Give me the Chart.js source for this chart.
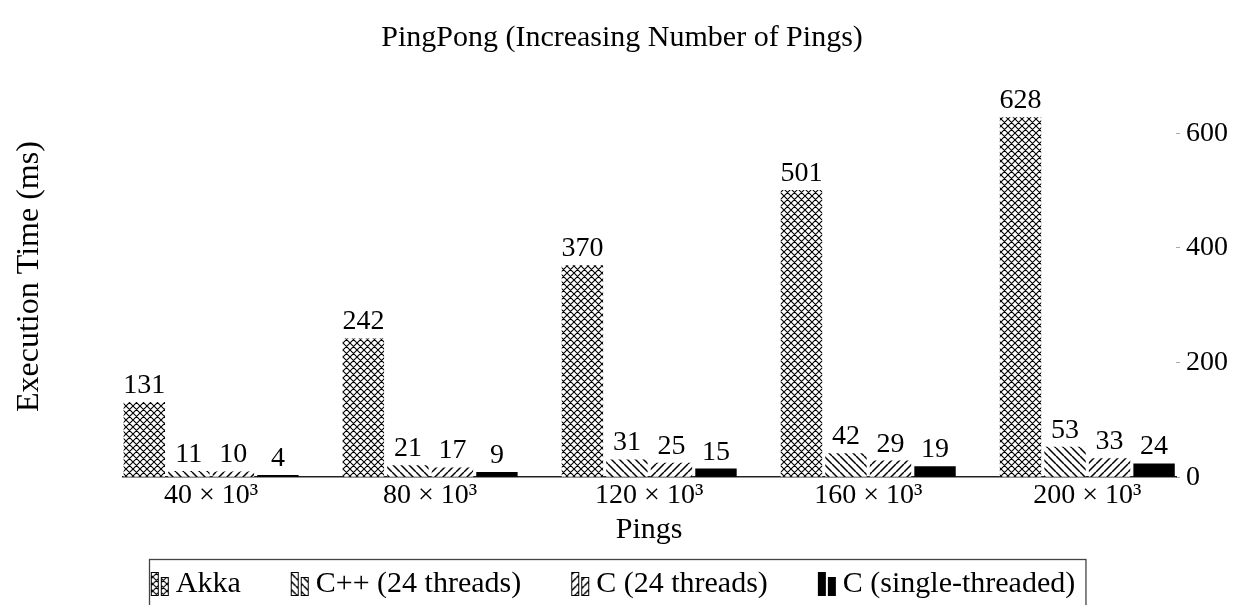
<!DOCTYPE html>
<html>
<head>
<meta charset="utf-8">
<title>PingPong</title>
<script src="https://cdn.jsdelivr.net/npm/chart.js@4.4.1/dist/chart.umd.min.js"></script>
<style>
  html, body { margin: 0; padding: 0; background: #fff; overflow: hidden; }
  #wrap { width: 1241px; height: 605px; overflow: hidden; }
</style>
</head>
<body>
<div id="wrap"><canvas id="pingChart" width="1241" height="609"></canvas></div>
<script>
// data
const pings = [40, 80, 120, 160, 200];
const pingLabels = ['40 × 10³', '80 × 10³', '120 × 10³', '160 × 10³', '200 × 10³'];
const seriesNames = ['Akka', 'C++ (24 threads)', 'C (24 threads)', 'C (single-threaded)'];
const akka = [131, 242, 370, 501, 628];
const cppThreads = [11, 21, 31, 42, 53];
const cThreads = [10, 17, 25, 29, 33];
const cSingle = [4, 9, 15, 19, 24];
const yTicks = [0, 200, 400, 600];

const FONT = "'Liberation Serif', 'DejaVu Serif', serif";

// hatch patterns like pgfplots
function makePattern(kind) {
  const s = kind === 'cross' ? 7 : 8;
  const c = document.createElement('canvas');
  c.width = s; c.height = s;
  const g = c.getContext('2d');
  g.fillStyle = '#fff';
  g.fillRect(0, 0, s, s);
  g.strokeStyle = '#000';
  g.lineWidth = kind === 'cross' ? 1.1 : 1.5;
  g.beginPath();
  for (let k = -1; k <= 1; k++) {
    if (kind === 'back' || kind === 'cross') {
      g.moveTo(k * s, 0); g.lineTo(k * s + s, s);
    }
    if (kind === 'fwd' || kind === 'cross') {
      g.moveTo(k * s, s); g.lineTo(k * s + s, 0);
    }
  }
  g.stroke();
  return g.createPattern(c, 'repeat');
}

const fills = [makePattern('cross'), makePattern('back'), makePattern('fwd'), '#000'];

// legend icon: two little bars; canvas is wider than the legend box so the
// bars sit close to the label text
const ICON_BOX = 20;
function makeIcon(fill) {
  const c = document.createElement('canvas');
  c.width = 38; c.height = 28;
  const g = c.getContext('2d');
  g.fillStyle = fill;
  g.strokeStyle = '#000';
  g.lineWidth = 1;
  g.fillRect(19, 2, 8, 24);
  g.strokeRect(19.5, 2.5, 7, 23);
  g.fillRect(29, 7, 8, 19);
  g.strokeRect(29.5, 7.5, 7, 18);
  return c;
}
const icons = fills.map(makeIcon);

const seriesData = [akka, cppThreads, cThreads, cSingle];

const valueLabels = {
  id: 'valueLabels',
  afterDatasetsDraw(chart) {
    const ctx = chart.ctx;
    ctx.save();
    ctx.font = '28px ' + FONT;
    ctx.fillStyle = '#000';
    ctx.textAlign = 'center';
    ctx.textBaseline = 'alphabetic';
    chart.data.datasets.forEach((ds, i) => {
      chart.getDatasetMeta(i).data.forEach((bar, j) => {
        ctx.fillText(String(seriesData[i][j]), bar.x, bar.y - 9);
      });
    });
    ctx.restore();
  }
};

// nudge the legend a little left, like the original
const legendShift = {
  id: 'legendShift',
  afterLayout(chart) {
    chart.legend.left -= 14;
    chart.legend.right -= 14;
  }
};

const legendBox = {
  id: 'legendBox',
  afterDraw(chart) {
    const boxes = chart.legend.legendHitBoxes;
    if (!boxes || !boxes.length) return;
    let l = Infinity, r = -Infinity, t = Infinity;
    boxes.forEach(b => {
      l = Math.min(l, b.left);
      r = Math.max(r, b.left + b.width);
      t = Math.min(t, b.top);
    });
    const ctx = chart.ctx;
    ctx.save();
    ctx.strokeStyle = '#444';
    ctx.lineWidth = 1.3;
    ctx.strokeRect(Math.round(l + 8) + 0.5, Math.round(t - 10) + 0.5, r - l + 2, 80);
    ctx.restore();
  }
};

new Chart(document.getElementById('pingChart'), {
  type: 'bar',
  data: {
    datasets: seriesNames.map((name, i) => ({
      label: name,
      data: seriesData[i].map((v, j) => ({ x: pings[j], y: v })),
      backgroundColor: fills[i],
      borderWidth: 0,
      yAxisID: 'y'
    }))
  },
  options: {
    responsive: false,
    animation: false,
    devicePixelRatio: 1,
    categoryPercentage: 0.813,
    barPercentage: 0.93,
    layout: { padding: { left: 10, right: 7, top: 0, bottom: 0 } },
    scales: {
      x: {
        type: 'linear',
        offset: false,
        bounds: 'data',
        min: 23.8,
        max: 216.2,
        afterBuildTicks: scale => { scale.ticks = pings.map(v => ({ value: v })); },
        ticks: {
          color: '#000',
          font: { family: FONT, size: 28, lineHeight: 0.85 },
          padding: 7,
          maxRotation: 0,
          callback: (v, i) => pingLabels[i]
        },
        grid: { display: true, drawOnChartArea: false, drawTicks: false, offset: false },
        border: { display: true, color: '#222', width: 1.5 },
        title: {
          display: true,
          text: 'Pings',
          color: '#000',
          font: { family: FONT, size: 30, lineHeight: 1 },
          padding: { top: 0, bottom: -16 }
        }
      },
      y: {
        position: 'right',
        min: 0,
        max: 700,
        afterBuildTicks: scale => { scale.ticks = yTicks.map(v => ({ value: v })); },
        ticks: {
          color: '#000',
          font: { family: FONT, size: 28 },
          padding: 6
        },
        grid: { display: true, drawOnChartArea: false, drawTicks: true, tickLength: 4, color: '#aaa' },
        border: { display: false }
      },
      yTitle: {
        type: 'linear',
        position: 'left',
        ticks: { display: false },
        grid: { display: false, drawTicks: false },
        border: { display: false },
        title: {
          display: true,
          text: 'Execution Time (ms)',
          color: '#000',
          font: { family: FONT, size: 32 },
          padding: { top: 0, bottom: 74 }
        }
      }
    },
    plugins: {
      title: {
        display: true,
        text: 'PingPong (Increasing Number of Pings)',
        color: '#000',
        font: { family: FONT, size: 30, weight: 'normal' },
        padding: { top: 20, bottom: 20 }
      },
      legend: {
        position: 'bottom',
        labels: {
          color: '#000',
          font: { family: FONT, size: 30 },
          usePointStyle: true,
          pointStyleWidth: ICON_BOX,
          boxHeight: 28,
          padding: 40,
          generateLabels: chart => chart.data.datasets.map((ds, i) => ({
            text: ds.label,
            pointStyle: icons[i],
            fillStyle: '#000',
            strokeStyle: '#000',
            lineWidth: 0,
            hidden: false,
            datasetIndex: i,
            fontColor: '#000'
          }))
        }
      },
      tooltip: { enabled: false }
    }
  },
  plugins: [valueLabels, legendShift, legendBox]
});
</script>
</body>
</html>
